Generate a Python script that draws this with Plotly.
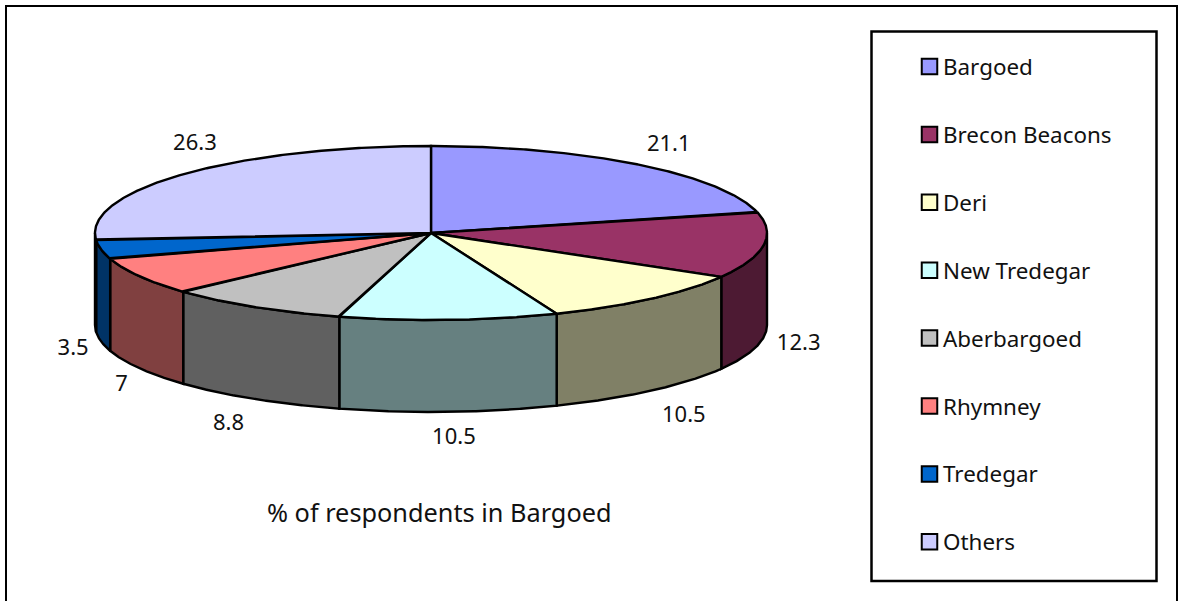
import numpy as np
import plotly.graph_objects as go

categories = ["Bargoed", "Brecon Beacons", "Deri", "New Tredegar",
              "Aberbargoed", "Rhymney", "Tredegar", "Others"]
shares = [21.1, 12.3, 10.5, 10.5, 8.8, 7, 3.5, 26.3]
top_colors = ["#9999FF", "#993366", "#FFFFCC", "#CCFFFF",
              "#C0C0C0", "#FF8080", "#0066CC", "#CCCCFF"]
wall_colors = ["#4D4D80", "#4D1A33", "#808066", "#668080",
               "#606060", "#804040", "#003366", "#666680"]

# Disc projection, in canvas pixels
CX, CY, RX, RY, DEPTH = 431, 233, 336, 87, 92
# Where each value label sits relative to its slice's rim point
label_offsets = [(31, -19), (35, 7), (33, 26), (5, 27), (-26, 25), (-18, 17), (-28, 8), (11, -30)]
label_shift = [(0, 0), (0, 92), (0, 92), (0, 92), (0, 92), (0, 92), (0, 92), (0, 0)]
FONT = "Noto Sans"
TEXT = "#111111"
EDGE = 2.4


def rim(angle_deg, drop=0.0):
    t = np.radians(angle_deg)
    return CX + RX * np.sin(t), CY - RY * np.cos(t) + drop


edges = np.concatenate([[0], np.cumsum(shares)]) * 3.6
fig = go.Figure()

# Outer walls: only the part of each slice on the near half of the disc shows
for i, name in enumerate(categories):
    a0, a1 = max(edges[i], 90), min(edges[i + 1], 270)
    if a1 <= a0:
        continue
    arc = np.linspace(a0, a1, 160)
    xt, yt = rim(arc)
    xb, yb = rim(arc[::-1], DEPTH)
    fig.add_trace(go.Scatter(
        x=np.r_[xt, xb, xt[0]], y=np.r_[yt, yb, yt[0]],
        mode="lines", fill="toself", fillcolor=wall_colors[i],
        line=dict(color="black", width=EDGE), hoverinfo="skip"))

# Top face of the disc
for i, name in enumerate(categories):
    arc = np.linspace(edges[i], edges[i + 1], 200)
    xt, yt = rim(arc)
    fig.add_trace(go.Scatter(
        x=np.r_[CX, xt, CX], y=np.r_[CY, yt, CY],
        mode="lines", fill="toself", fillcolor=top_colors[i],
        line=dict(color="black", width=EDGE), name=name,
        hovertemplate=f"{name}: {shares[i]}<extra></extra>"))

# Value labels
mids = (edges[:-1] + edges[1:]) / 2
lx, ly = [], []
for i, m in enumerate(mids):
    x, y = rim(m, label_shift[i][1])
    lx.append(x + label_offsets[i][0])
    ly.append(y + label_offsets[i][1])
fig.add_trace(go.Scatter(
    x=lx, y=ly, mode="text", text=[str(v) for v in shares],
    textposition="middle center", textfont=dict(family=FONT, size=22, color=TEXT),
    hoverinfo="skip"))

# Legend column
LEG_TOP, LEG_STEP = 66.5, 67.9
leg_y = [LEG_TOP + LEG_STEP * k for k in range(len(categories))]
fig.add_trace(go.Scatter(
    x=[929.5] * len(categories), y=leg_y, mode="markers",
    marker=dict(symbol="square", size=15.5, color=top_colors,
                line=dict(color="black", width=2)),
    hoverinfo="skip"))
fig.add_trace(go.Scatter(
    x=[943] * len(categories), y=[v + 3 for v in leg_y], mode="text", text=categories,
    textposition="middle right", textfont=dict(family=FONT, size=22.4, color=TEXT),
    hoverinfo="skip"))

fig.update_layout(
    width=1178, height=601, margin=dict(l=0, r=0, t=0, b=0),
    paper_bgcolor="white", plot_bgcolor="white", showlegend=False,
    xaxis=dict(range=[0, 1178], visible=False, fixedrange=True),
    yaxis=dict(range=[601, 0], visible=False, fixedrange=True),
    shapes=[
        dict(type="rect", x0=6, y0=6, x1=1177, y1=620,
             line=dict(color="black", width=2), layer="below"),
        dict(type="rect", x0=871.5, y0=31.5, x1=1156.5, y1=581,
             line=dict(color="black", width=2.5), layer="below"),
    ],
    annotations=[dict(
        x=439, y=512, xref="x", yref="y", showarrow=False,
        text="% of respondents in Bargoed",
        font=dict(family=FONT, size=25.3, color=TEXT))],
)

fig.write_html("out.html")
